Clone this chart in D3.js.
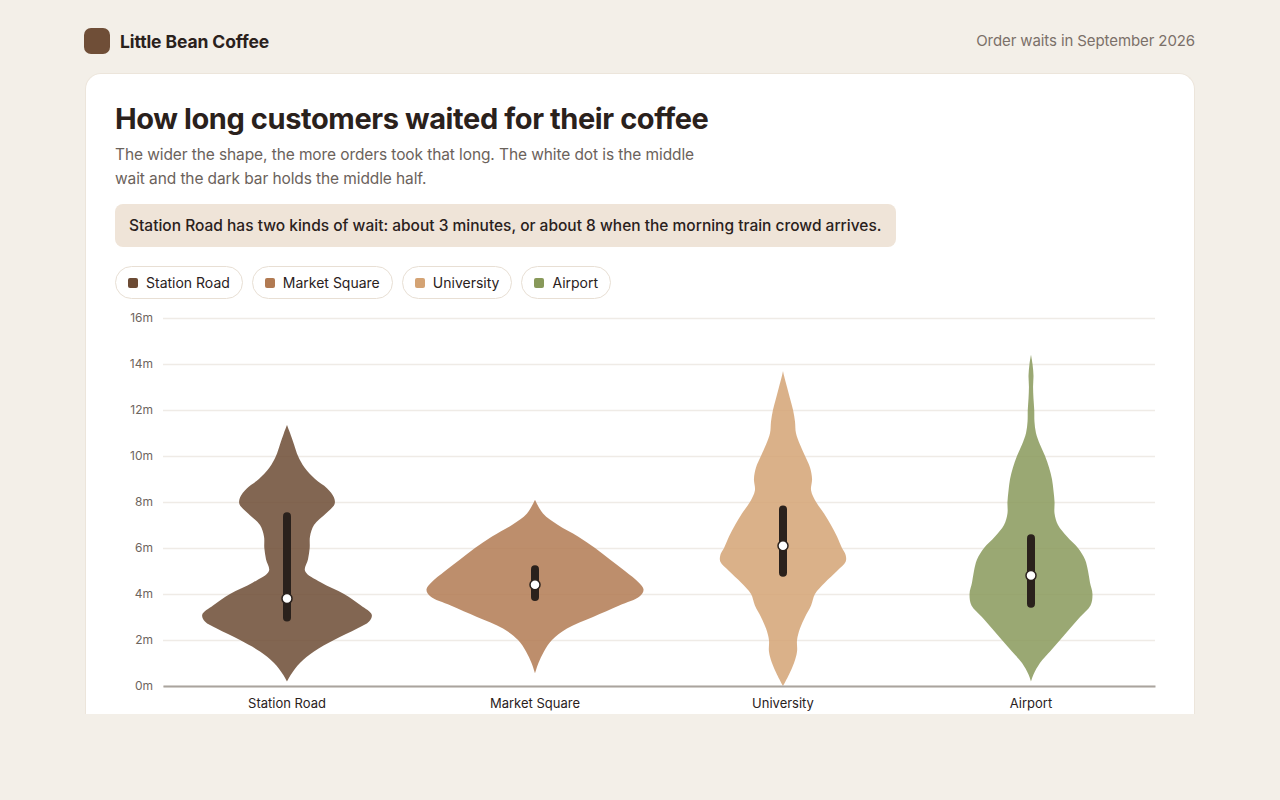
<!DOCTYPE html>
<html>
<head>
<meta charset="utf-8">
<script src="https://cdn.jsdelivr.net/npm/d3@7"></script>
<style>
  body { margin: 0; width: 1280px; height: 800px; overflow: hidden; background: #f3efe8;
         font-family: "Inter", "Noto Sans", sans-serif; color: #2a211c; position: relative; }
  .logo { position: absolute; left: 84px; top: 28px; width: 26px; height: 26px; border-radius: 7px; background: #6f4e37; }
  .brand { position: absolute; left: 120px; top: 31px; font-size: 17.5px; font-weight: 700; letter-spacing: -0.1px; }
  .period { position: absolute; right: 85px; top: 31px; font-size: 15px; color: #7b7069; letter-spacing: -0.1px; }
  .card { position: absolute; left: 85px; top: 73px; width: 1108px; height: 640px; background: #fff;
          border: 1px solid #ece5db; border-bottom: none; border-radius: 16px 16px 0 0; }
  h1 { position: absolute; left: 115px; top: 101px; margin: 0; font-size: 29px; font-weight: 700; letter-spacing: -0.4px; }
  .sub { position: absolute; left: 115px; top: 143px; margin: 0; font-size: 15.5px; line-height: 24px; color: #6b625b; letter-spacing: -0.1px; }
  .callout { position: absolute; left: 115px; top: 204px; height: 43px; line-height: 43px; padding: 0 15px 0 14px;
             background: #efe4d8; border-radius: 8px; font-size: 15.5px; font-weight: 500; }
  .legend { position: absolute; left: 115px; top: 266px; display: flex; gap: 9px; }
  .pill { display: flex; align-items: center; gap: 8px; height: 31px; padding: 0 12px 0 12px;
          border: 1px solid #e8dfd4; border-radius: 17px; font-size: 14px; color: #2a211c; }
  .pill span.sw { width: 10px; height: 10px; border-radius: 2px; display: inline-block; }
  svg { position: absolute; left: 0; top: 300px; }
</style>
</head>
<body>
<div class="logo"></div>
<div class="brand">Little Bean Coffee</div>
<div class="period">Order waits in September 2026</div>
<div class="card"></div>
<h1>How long customers waited for their coffee</h1>
<p class="sub">The wider the shape, the more orders took that long. The white dot is the middle<br>wait and the dark bar holds the middle half.</p>
<div class="callout">Station Road has two kinds of wait: about 3 minutes, or about 8 when the morning train crowd arrives.</div>
<div class="legend"></div>
<svg id="chart" width="1280" height="413"></svg>
<script>
// stores and colours
const stores = ['Station Road', 'Market Square', 'University', 'Airport'];
const storeColors = ['#6c4b34', '#b17a52', '#d4a374', '#88995a'];

// wait (minutes) -> relative density
const stationRoad = [[0.2,0],[0.5,3.7],[1,12],[1.5,25],[2,43.5],[2.5,65],[2.8,76],[3.1,78.5],[3.5,68.5],[4,52.8],[4.5,31.5],
  [5,16.7],[5.5,19.4],[6,21],[6.5,21.3],[7,25],[7.5,36],[7.9,44],[8.2,43.5],[8.6,37],[9,26],[9.5,16.2],[10,10.2],[10.5,6.5],[11,2.8],[11.35,0]];
const marketSquare = [[0.55,0],[1,3.2],[1.5,8.3],[2,15.7],[2.5,29.6],[3,53.7],[3.5,78],[3.9,97],[4.2,100.5],[4.5,96],[5,83.3],
  [5.5,69.4],[6,55.6],[6.5,39.8],[7,21.3],[7.5,7.4],[8.1,0]];
const university = [[0,0],[0.5,5.6],[1,10.2],[1.5,13],[2,13],[2.5,15.7],[3,20.4],[3.5,26],[4,29.6],[4.5,38.9],[5,50],
  [5.4,58],[5.7,58],[6,54.6],[6.5,50],[7,44.4],[7.5,38],[8,30.6],[8.5,26],[9,26.9],[9.5,25],[10,20.4],[10.5,15.7],[11,12],
  [11.5,11.1],[12,9.3],[12.5,6.5],[13,3.7],[13.5,0.9],[13.7,0]];
const airport = [[0.2,0],[0.5,2.3],[1,8.3],[1.5,17.6],[2,26.9],[2.5,36.1],[3,45.4],[3.5,55.1],[4,56.9],[4.5,54.6],
  [5,52.8],[5.5,50],[6,43.5],[6.5,33.3],[7,25],[7.5,21.8],[8,21.8],[8.5,20.8],[9,19.4],[9.5,16.7],[10,13],[10.5,8.3],
  [11,4.6],[11.5,3.2],[12,3],[12.5,2.3],[13,1.9],[13.5,2.3],[14,1.4],[14.4,0]];
const densities = [stationRoad, marketSquare, university, airport];

// middle wait and middle half
const medians = [3.8, 4.4, 6.1, 4.8];
const q1 = [2.8, 3.7, 4.75, 3.4];
const q3 = [7.55, 5.25, 7.85, 6.6];

const yTicks = [0, 2, 4, 6, 8, 10, 12, 14, 16];

// legend
const legend = d3.select('.legend');
stores.forEach((s, i) => {
  const p = legend.append('div').attr('class', 'pill');
  p.append('span').attr('class', 'sw').style('background', storeColors[i]);
  p.append('span').text(s);
});

const svg = d3.select('#chart');
const x = d3.scaleBand().domain(stores).range([163, 1155]);
const y = d3.scaleLinear().domain([0, 16]).range([386, 18]);
const w = d3.scaleLinear().domain([0, 100]).range([0, 108]);

// grid + y labels
const yAxis = svg.append('g').attr('transform', 'translate(163,0)')
  .call(d3.axisLeft(y).tickValues(yTicks).tickFormat(d => d + 'm').tickSize(-992).tickPadding(10));
yAxis.select('.domain').remove();
yAxis.selectAll('line').attr('stroke', '#efebe6').attr('stroke-width', 1.5);
yAxis.selectAll('text').attr('fill', '#6e655e').style('font-size', '12px').style('font-family', 'Inter, sans-serif');

// violins
const area = d3.area()
  .curve(d3.curveCatmullRom.alpha(0.5))
  .y(d => y(d[0]));

densities.forEach((dens, i) => {
  const cx = x(stores[i]) + x.bandwidth() / 2;
  svg.append('path')
    .datum(dens)
    .attr('d', area.x0(d => cx - w(d[1])).x1(d => cx + w(d[1])))
    .attr('fill', storeColors[i])
    .attr('fill-opacity', 0.85);
});

// middle half bars + medians
const g = svg.append('g');
stores.forEach((s, i) => {
  const cx = x(s) + x.bandwidth() / 2;
  g.append('rect')
    .attr('x', cx - 4).attr('width', 8)
    .attr('y', y(q3[i])).attr('height', y(q1[i]) - y(q3[i]))
    .attr('rx', 4).attr('fill', '#2a211c');
  g.append('circle')
    .attr('cx', cx).attr('cy', y(medians[i])).attr('r', 5)
    .attr('fill', '#fff').attr('stroke', '#2a211c').attr('stroke-width', 1.5);
});

// x axis
const xAxis = svg.append('g').attr('transform', 'translate(0,386)')
  .call(d3.axisBottom(x).tickSize(0).tickPadding(13));
xAxis.select('.domain').attr('stroke', '#aaa49e').attr('stroke-width', 2);
xAxis.selectAll('text').attr('fill', '#2a211c').style('font-size', '13px').style('font-family', 'Inter, sans-serif');
</script>
</body>
</html>
